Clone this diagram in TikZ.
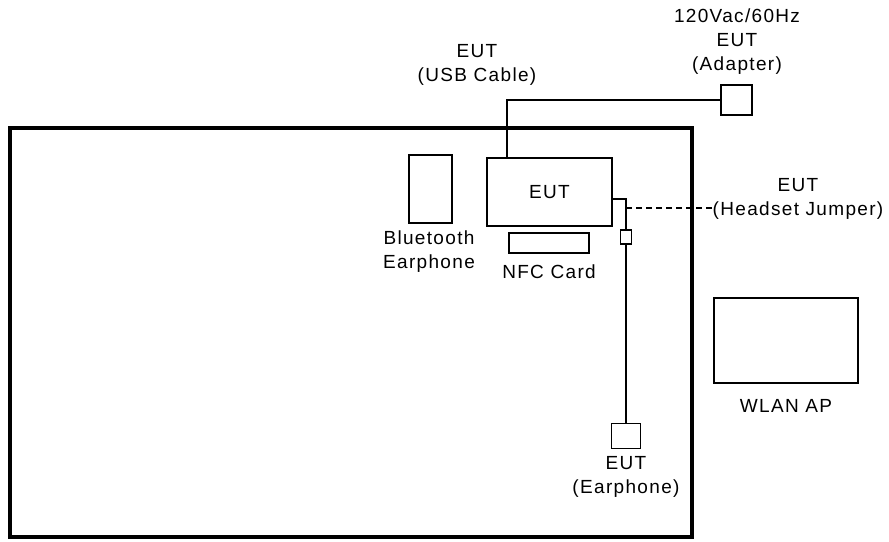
\documentclass[tikz,border=0pt]{standalone}
\usepackage{fontspec}
\setmainfont[LetterSpace=7]{Liberation Sans}
\begin{document}
\begin{tikzpicture}[x=1pt,y=-1pt,
  lbl/.style={inner sep=0pt,align=center,font=\fontsize{19}{24}\selectfont},
  boxs/.style={draw,line width=1.5pt,inner sep=0pt},
  wire/.style={line width=1.5pt}]
\useasboundingbox (0,0) rectangle (889,541);
% table
\draw[line width=4pt] (10,128) rectangle (692,537);
% EUT box
\node[boxs,minimum width=125pt,minimum height=68pt,font=\fontsize{19}{24}\selectfont] (eut) at (549.5,192) {EUT};
% bluetooth
\node[boxs,minimum width=43pt,minimum height=68pt] (bt) at (430.5,189) {};
\node[lbl] (btl) at (429,252) {Bluetooth\\Earphone};
% NFC
\node[boxs,minimum width=80pt,minimum height=20pt] (nfc) at (549,243) {};
\node[lbl] (nfcl) at (549,272) {NFC Card};
% adapter
\node[boxs,minimum width=31pt,minimum height=30pt] (adp) at (736.5,100) {};
\node[lbl] (adpl) at (737,42) {120Vac/60Hz\\EUT\\(Adapter)};
% USB cable
\coordinate (u1) at (507,158);
\node[lbl] (usbl) at (477,65) {EUT\\(USB Cable)};
\draw[wire] (u1) |- (adp.west);
% headset jumper
\coordinate (h0) at (612,199);
\coordinate (h1) at (626,199);
\node[boxs,minimum width=11pt,minimum height=14pt] (jk) at (626,237) {};
\draw[wire] (h0) -- (h1) -- (jk.north);
\coordinate (d0) at (626,208);
\coordinate (d1) at (712,208);
\draw[wire,dashed,dash pattern=on 6pt off 4pt] (d0) -- (d1);
\node[lbl] (hjl) at (798,199) {EUT\\(Headset Jumper)};
% earphone
\node[boxs,minimum width=29pt,minimum height=25pt] (ear) at (626,436) {};
\draw[wire] (jk.south) -- (ear.north);
\node[lbl] (earl) at (626,477) {EUT\\(Earphone)};
% WLAN AP
\node[boxs,minimum width=144pt,minimum height=85pt] (ap) at (786,340.5) {};
\node[lbl] (apl) at (786,406) {WLAN AP};
\end{tikzpicture}
\end{document}
